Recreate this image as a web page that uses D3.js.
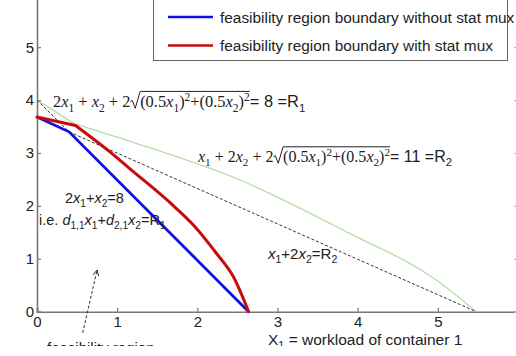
<!DOCTYPE html>
<html>
<head>
<meta charset="utf-8">
<script src="https://cdn.jsdelivr.net/npm/d3@7"></script>
<style>
  body { margin: 0; background: #fff; }
  svg { display: block; }
</style>
</head>
<body>
<div id="chart"></div>
<script>
const w = 516;
const h = 356;

// values
const xTicks = [0, 1, 2, 3, 4, 5];
const yTicks = [0, 1, 2, 3, 4, 5];

const blueX = [0, 0.40, 2.64];
const blueY = [3.68, 3.40, 0];

// first point pair is a straight piece, the rest is a smooth curve
const redX = [0, 0.48, 0.91, 1.16, 1.66, 1.95, 2.24, 2.45, 2.64];
const redY = [3.68, 3.52, 3.02, 2.70, 2.06, 1.64, 1.10, 0.66, 0];

const greenX = [0, 0.47, 1.16, 2.53, 3.9, 4.98, 5.48];
const greenY = [4.0, 3.55, 3.22, 2.49, 1.48, 0.6, 0];

const dashX = [0, 0.40, 5.48];
const dashY = [4.0, 3.40, 0];

const legendLabels = [
  'feasibility region boundary without stat mux',
  'feasibility region boundary with stat mux'
];

const svg = d3.select('#chart').append('svg').attr('width', w).attr('height', h);

const xScale = d3.scaleLinear().domain([0, 6]).range([37, 518]);
const yScale = d3.scaleLinear().domain([0, 6]).range([311.7, -5.7]);

const sans = 'Liberation Sans, Arial, sans-serif';
const serif = 'Liberation Serif, Times New Roman, serif';

const line = d3.line().x(d => xScale(d[0])).y(d => yScale(d[1]));
const smooth = d3.line().x(d => xScale(d[0])).y(d => yScale(d[1])).curve(d3.curveMonotoneX);
const zip = (a, b) => a.map((v, i) => [v, b[i]]);

// axes, matlab style ticks pointing inward
const xAxis = svg.append('g')
  .attr('transform', `translate(0,${yScale(0)})`)
  .call(d3.axisBottom(xScale).tickValues(xTicks).tickSize(-4).tickPadding(5).tickFormat(d3.format('d')));
const yAxis = svg.append('g')
  .attr('transform', `translate(${xScale(0)},0)`)
  .call(d3.axisLeft(yScale).tickValues(yTicks).tickSize(-4).tickPadding(3).tickFormat(d3.format('d')));
const rAxis = svg.append('g')
  .attr('transform', `translate(${xScale(6)},0)`)
  .call(d3.axisRight(yScale).tickValues(yTicks).tickSize(-4).tickFormat(''));

[xAxis, yAxis, rAxis].forEach(a => {
  a.select('.domain').attr('stroke', '#777').attr('stroke-width', 1.6);
  a.selectAll('.tick line').attr('stroke', '#777').attr('stroke-width', 1.2);
  a.selectAll('.tick text').attr('font-family', sans).attr('font-size', 15).attr('fill', '#222');
});
rAxis.selectAll('.tick line').attr('stroke', '#bbb');

// curves
const green = zip(greenX, greenY);
svg.append('path').datum(green.slice(0, 2)).attr('d', line)
  .attr('fill', 'none').attr('stroke', '#b5dfa5').attr('stroke-width', 1.3);
svg.append('path').datum(green.slice(1)).attr('d', smooth)
  .attr('fill', 'none').attr('stroke', '#b5dfa5').attr('stroke-width', 1.3);
svg.append('path').datum(zip(dashX, dashY)).attr('d', line)
  .attr('fill', 'none').attr('stroke', '#333').attr('stroke-width', 1).attr('stroke-dasharray', '3,2');
svg.append('path').datum(zip(blueX, blueY)).attr('d', line)
  .attr('fill', 'none').attr('stroke', '#1010e0').attr('stroke-width', 2.8);
const red = zip(redX, redY);
svg.append('path').datum(red.slice(0, 2)).attr('d', line)
  .attr('fill', 'none').attr('stroke', '#c80a0a').attr('stroke-width', 3).attr('stroke-linecap', 'round');
svg.append('path').datum(red.slice(1)).attr('d', smooth)
  .attr('fill', 'none').attr('stroke', '#c80a0a').attr('stroke-width', 3).attr('stroke-linecap', 'round');

// rich text helper: pieces laid out one after another
function rich(x0, y0, size, fam, parts) {
  const g = svg.append('g');
  let cx = x0, o1 = null, o2 = null;
  parts.forEach(p => {
    if (p.rad) {
      const rw = size * 0.6;
      g.append('path')
        .attr('d', `M${cx},${y0 - size * 0.32} L${cx + size * 0.12},${y0 - size * 0.4} L${cx + size * 0.3},${y0 + size * 0.08} L${cx + rw},${y0 - size * 0.95}`)
        .attr('fill', 'none').attr('stroke', '#222').attr('stroke-width', 1);
      o1 = cx + rw;
      cx += rw;
      return;
    }
    const fs = (p.sub || p.sup) ? size * 0.7 : size;
    const dy = p.sub ? size * 0.28 : p.sup ? -size * 0.36 : 0;
    const t = g.append('text')
      .attr('x', cx).attr('y', y0 + dy)
      .attr('font-family', p.f || fam).attr('font-size', fs)
      .attr('font-style', p.i ? 'italic' : 'normal')
      .attr('fill', '#222')
      .style('white-space', 'pre')
      .text(p.t);
    const tw = t.node().getComputedTextLength();
    if (p.over) o2 = cx + tw;
    cx += tw;
  });
  if (o1 !== null && o2 !== null) {
    g.append('line').attr('x1', o1).attr('x2', o2)
      .attr('y1', y0 - size * 0.95).attr('y2', y0 - size * 0.95)
      .attr('stroke', '#222').attr('stroke-width', 1);
  }
  return g;
}

const radicand = [
  { t: '(0.5', over: true }, { t: 'x', i: true, over: true }, { t: '1', sub: true, over: true },
  { t: ')', over: true }, { t: '2', sup: true, over: true },
  { t: '+(0.5', over: true }, { t: 'x', i: true, over: true }, { t: '2', sub: true, over: true },
  { t: ')', over: true }, { t: '2', sup: true, over: true }
];

rich(53, 107, 16.4, serif, [
  { t: '2' }, { t: 'x', i: true }, { t: '1', sub: true }, { t: ' + ' },
  { t: 'x', i: true }, { t: '2', sub: true }, { t: ' + 2' }, { rad: true },
  ...radicand,
  { t: '= 8 =R', f: sans }, { t: '1', sub: true, f: sans }
]);

rich(198, 162, 16, serif, [
  { t: 'x', i: true }, { t: '1', sub: true }, { t: ' + 2' },
  { t: 'x', i: true }, { t: '2', sub: true }, { t: ' + 2' }, { rad: true },
  ...radicand,
  { t: '= 11 =R', f: sans }, { t: '2', sub: true, f: sans }
]);

rich(65, 203, 14.5, sans, [
  { t: '2' }, { t: 'x', i: true }, { t: '1', sub: true }, { t: '+' },
  { t: 'x', i: true }, { t: '2', sub: true }, { t: '=8' }
]);

rich(39, 225, 14.5, sans, [
  { t: 'i.e. ' }, { t: 'd', i: true }, { t: '1,1', sub: true }, { t: 'x', i: true }, { t: '1', sub: true },
  { t: '+' }, { t: 'd', i: true }, { t: '2,1', sub: true }, { t: 'x', i: true }, { t: '2', sub: true },
  { t: '=R' }, { t: '1', sub: true }
]);

rich(268, 259, 15, sans, [
  { t: 'x', i: true }, { t: '1', sub: true }, { t: '+2' },
  { t: 'x', i: true }, { t: '2', sub: true }, { t: '=R' }, { t: '2', sub: true }
]);

// arrow to the feasibility region
svg.append('defs').append('marker')
  .attr('id', 'arr').attr('viewBox', '0 0 10 10').attr('refX', 9).attr('refY', 5)
  .attr('markerWidth', 7).attr('markerHeight', 7).attr('orient', 'auto')
  .append('path').attr('d', 'M1,1 L9,5 L1,9').attr('fill', 'none').attr('stroke', '#222').attr('stroke-width', 1.3);
svg.append('line')
  .attr('x1', xScale(0.57)).attr('y1', yScale(-0.40))
  .attr('x2', xScale(0.75)).attr('y2', yScale(0.79))
  .attr('stroke', '#333').attr('stroke-width', 1).attr('stroke-dasharray', '3,2')
  .attr('marker-end', 'url(#arr)');

svg.append('text').attr('x', 47).attr('y', 352.6)
  .attr('font-family', sans).attr('font-size', 15).attr('fill', '#222')
  .text('feasibility region');

rich(268, 345, 15.5, sans, [{ t: 'X' }, { t: '1', sub: true }, { t: ' = workload of container 1' }]);

// picture is cut off at the bottom
svg.append('rect').attr('x', 0).attr('y', 346).attr('width', w).attr('height', h - 346).attr('fill', '#fff');

// legend
const lg = svg.append('g');
lg.append('rect').attr('x', 153.5).attr('y', -2).attr('width', 354).attr('height', 62.5)
  .attr('fill', '#fff').attr('stroke', '#666').attr('stroke-width', 1);
const legColors = ['#1010e0', '#c80a0a'];
legendLabels.forEach((lab, i) => {
  const ly = 17 + i * 28.5;
  lg.append('line').attr('x1', 168).attr('x2', 213).attr('y1', ly).attr('y2', ly)
    .attr('stroke', legColors[i]).attr('stroke-width', 2.6);
  lg.append('text').attr('x', 220).attr('y', ly + 5.5)
    .attr('font-family', sans).attr('font-size', 15.4).attr('fill', '#222')
    .text(lab);
});
</script>
</body>
</html>
